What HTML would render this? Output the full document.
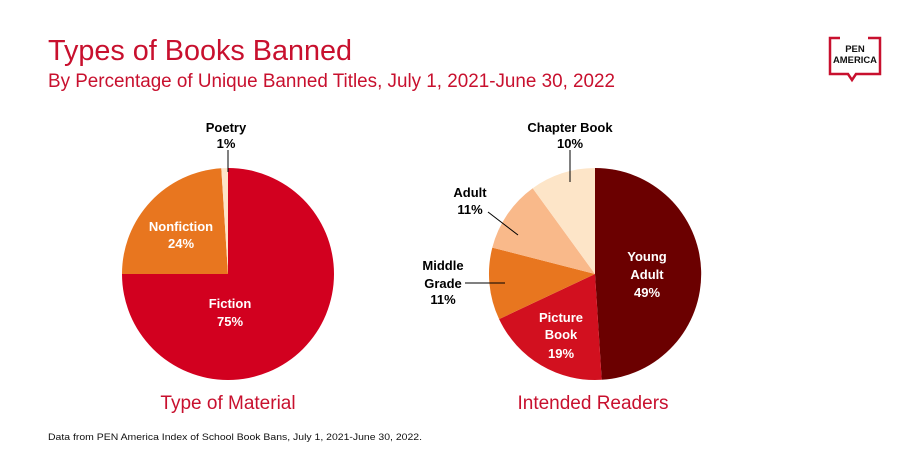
<!DOCTYPE html>
<html><head><meta charset="utf-8"><style>
html,body{margin:0;padding:0;background:#fff;}
svg{display:block;font-family:"Liberation Sans",sans-serif;}
.b{font-weight:bold;font-size:13px;text-anchor:middle;}
</style></head><body>
<svg width="921" height="459" viewBox="0 0 921 459">
<rect width="921" height="459" fill="#fff"/>
<text x="48" y="60" font-size="29" fill="#c8102e" textLength="304" lengthAdjust="spacingAndGlyphs">Types of Books Banned</text>
<text x="48" y="87" font-size="19" fill="#c8102e" textLength="567" lengthAdjust="spacingAndGlyphs">By Percentage of Unique Banned Titles, July 1, 2021-June 30, 2022</text>
<!-- logo -->
<g fill="none" stroke="#c8102e" stroke-width="2.5">
<path d="M840 38 H830 V74 H848 L852 80 L856 74 H880 V38 H868"/>
</g>
<text x="855" y="52" font-size="9.5" font-weight="bold" text-anchor="middle" fill="#111">PEN</text>
<text x="855" y="63" font-size="9.5" font-weight="bold" text-anchor="middle" fill="#111" textLength="44" lengthAdjust="spacingAndGlyphs">AMERICA</text>
<!-- left pie -->
<path d="M228 274 L228 168 A106 106 0 1 1 122 274 Z" fill="#d2001f"/>
<path d="M228 274 L122 274 A106 106 0 0 1 221.3 168.2 Z" fill="#e8761f"/>
<path d="M228 274 L221.3 168.2 A106 106 0 0 1 228 168 Z" fill="#fde4c8"/>
<line x1="228" y1="150" x2="228" y2="172" stroke="#000" stroke-width="1"/>
<text class="b" x="226" y="132" fill="#000">Poetry</text>
<text class="b" x="226" y="148" fill="#000">1%</text>
<text class="b" x="181" y="231" fill="#fff">Nonfiction</text>
<text class="b" x="181" y="248" fill="#fff">24%</text>
<text class="b" x="230" y="308" fill="#fff">Fiction</text>
<text class="b" x="230" y="326" fill="#fff">75%</text>
<text x="228" y="409" font-size="19" fill="#c8102e" text-anchor="middle">Type of Material</text>
<!-- right pie -->
<path d="M595 274 L595 168 A106 106 0 0 1 601.7 379.8 Z" fill="#6b0000"/>
<path d="M595 274 L601.7 379.8 A106 106 0 0 1 499.1 319.1 Z" fill="#d2101f"/>
<path d="M595 274 L499.1 319.1 A106 106 0 0 1 492.3 247.6 Z" fill="#e8761f"/>
<path d="M595 274 L492.3 247.6 A106 106 0 0 1 532.7 188.2 Z" fill="#f9b98a"/>
<path d="M595 274 L532.7 188.2 A106 106 0 0 1 595 168 Z" fill="#fde5c8"/>
<line x1="570" y1="150" x2="570" y2="182" stroke="#000"/>
<line x1="488" y1="212" x2="518" y2="235" stroke="#000"/>
<line x1="465" y1="283" x2="505" y2="283" stroke="#000"/>
<text class="b" x="570" y="132" fill="#000">Chapter Book</text>
<text class="b" x="570" y="148" fill="#000">10%</text>
<text class="b" x="470" y="197" fill="#000">Adult</text>
<text class="b" x="470" y="214" fill="#000">11%</text>
<text class="b" x="443" y="270" fill="#000">Middle</text>
<text class="b" x="443" y="288" fill="#000">Grade</text>
<text class="b" x="443" y="304" fill="#000">11%</text>
<text class="b" x="647" y="261" fill="#fff">Young</text>
<text class="b" x="647" y="279" fill="#fff">Adult</text>
<text class="b" x="647" y="297" fill="#fff">49%</text>
<text class="b" x="561" y="322" fill="#fff">Picture</text>
<text class="b" x="561" y="339" fill="#fff">Book</text>
<text class="b" x="561" y="358" fill="#fff">19%</text>
<text x="593" y="409" font-size="19" fill="#c8102e" text-anchor="middle">Intended Readers</text>
<text x="48" y="440" font-size="9.5" fill="#111" textLength="374" lengthAdjust="spacingAndGlyphs">Data from PEN America Index of School Book Bans, July 1, 2021-June 30, 2022.</text>
</svg>
</body></html>
